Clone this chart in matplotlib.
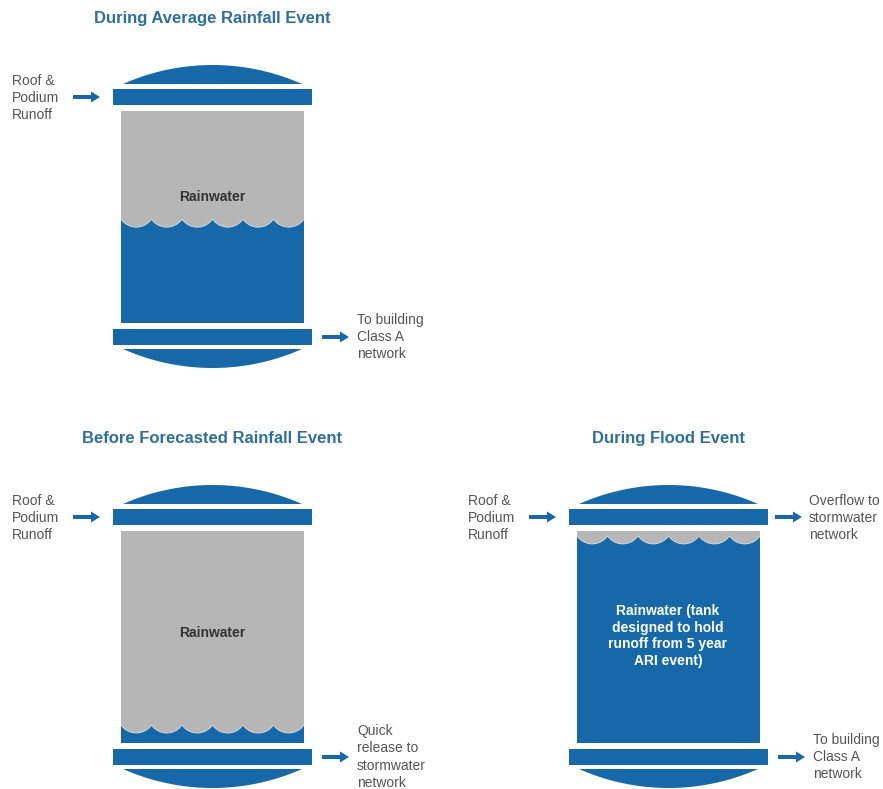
import numpy as np
import matplotlib
matplotlib.use("Agg")
import matplotlib.pyplot as plt
from matplotlib.patches import Rectangle, Polygon, FancyArrow

plt.rcParams['font.family'] = ['Liberation Sans', 'DejaVu Sans']

# panel content
titles = ["During Average Rainfall Event",
          "Before Forecasted Rainfall Event",
          "During Flood Event"]
water_levels = [0.49, 0.085, 0.977]   # fraction of tank body filled (blue)
inflow_labels = ["Roof &\nPodium\nRunoff"] * 3
overflow_labels = [None, None, "Overflow to\nstormwater\nnetwork"]
outflow_labels = ["To building\nClass A\nnetwork",
                  "Quick\nrelease to\nstormwater\nnetwork",
                  "To building\nClass A\nnetwork"]
body_labels = ["Rainwater", "Rainwater",
               "Rainwater (tank\ndesigned to hold\nrunoff from 5 year\nARI event)"]

# layout (pixels): top-left corner of each tank's top bar
origins = [(113, 89), (113, 509), (569, 509)]
label_dy = [108, 124, 127]

BLUE = "#1668a8"
GRAY = "#b6b6b6"
TITLE = "#2d6f9e"
TEXT = "#555555"

fig = plt.figure(figsize=(8.83, 7.89), dpi=100)
ax = fig.add_axes([0, 0, 1, 1])
ax.set_xlim(0, 883)
ax.set_ylim(789, 0)
ax.axis('off')


def arc_pts(x_a, x_b, y, sag, down=True, n=30):
    w = x_b - x_a
    R = (w * w / 4 + sag * sag) / (2 * sag)
    t0 = np.arcsin((w / 2) / R)
    t = np.linspace(-t0, t0, n)
    xm = (x_a + x_b) / 2
    if down:
        yc = y + sag - R
        return xm + R * np.sin(t), yc + R * np.cos(t)
    yc = y - sag + R
    return xm + R * np.sin(t), yc - R * np.cos(t)


def draw_tank(i):
    x0, y0 = origins[i]
    bw, bh = 199, 16
    bx0, bx1 = x0 + 8, x0 + 191
    by0, by1 = y0 + 22, y0 + 234

    # domes
    xs, ys = arc_pts(x0 + 10, x0 + 189, y0 - 5, 19, down=False)
    ax.add_patch(Polygon(np.column_stack([xs, ys]), closed=True, color=BLUE, lw=0))
    xs, ys = arc_pts(x0 + 10, x0 + 189, y0 + 260, 19, down=True)
    ax.add_patch(Polygon(np.column_stack([xs, ys]), closed=True, color=BLUE, lw=0))

    # bars
    ax.add_patch(Rectangle((x0, y0), bw, bh, color=BLUE, lw=0))
    ax.add_patch(Rectangle((x0, y0 + 240), bw, bh, color=BLUE, lw=0))

    # body: water (blue) with gray air on top, scalloped surface
    ax.add_patch(Rectangle((bx0, by0), bx1 - bx0, by1 - by0, color=BLUE, lw=0))
    level = by1 - water_levels[i] * (by1 - by0)
    edges = np.linspace(bx0, bx1, 7)
    sx, sy = [], []
    for a, b in zip(edges[:-1], edges[1:]):
        xs, ys = arc_pts(a, b, level, 8)
        sx.extend(xs)
        sy.extend(ys)
    px = [bx0, bx1] + sx[::-1]
    py = [by0, by0] + sy[::-1]
    ax.add_patch(Polygon(np.column_stack([px, py]), closed=True,
                         facecolor=GRAY, lw=0))
    ax.plot(sx, sy, color='#d6d6d6', lw=0.7)

    # title
    ax.text(x0 + 99, y0 - 71, titles[i], ha='center', va='center',
            fontsize=12, fontweight='bold', color=TITLE)

    # body label
    if i == 2:
        ax.text(x0 + 99, y0 + label_dy[i], body_labels[i], ha='center', va='center',
                fontsize=10, fontweight='bold', color='white', linespacing=1.25)
    else:
        ax.text(x0 + 99, y0 + label_dy[i], body_labels[i], ha='center', va='center',
                fontsize=10, fontweight='bold', color='#333333')

    arrow = dict(width=4, head_width=11, head_length=9, length_includes_head=True,
                 color=BLUE, lw=0)
    txt = dict(ha='left', va='center', fontsize=10, color=TEXT, linespacing=1.3)
    # inflow
    ax.add_patch(FancyArrow(x0 - 40, y0 + 8, 27, 0, **arrow))
    ax.text(x0 - 101, y0 + 9, inflow_labels[i], **txt)
    # overflow
    if overflow_labels[i]:
        ax.add_patch(FancyArrow(x0 + 206, y0 + 8, 27, 0, **arrow))
        ax.text(x0 + 240, y0 + 9, overflow_labels[i], **txt)
    # outflow
    ax.add_patch(FancyArrow(x0 + 209, y0 + 248, 27, 0, **arrow))
    ax.text(x0 + 244, y0 + 248, outflow_labels[i], **txt)


for i in range(3):
    draw_tank(i)

fig.savefig("out.png", dpi=100, facecolor='white')
